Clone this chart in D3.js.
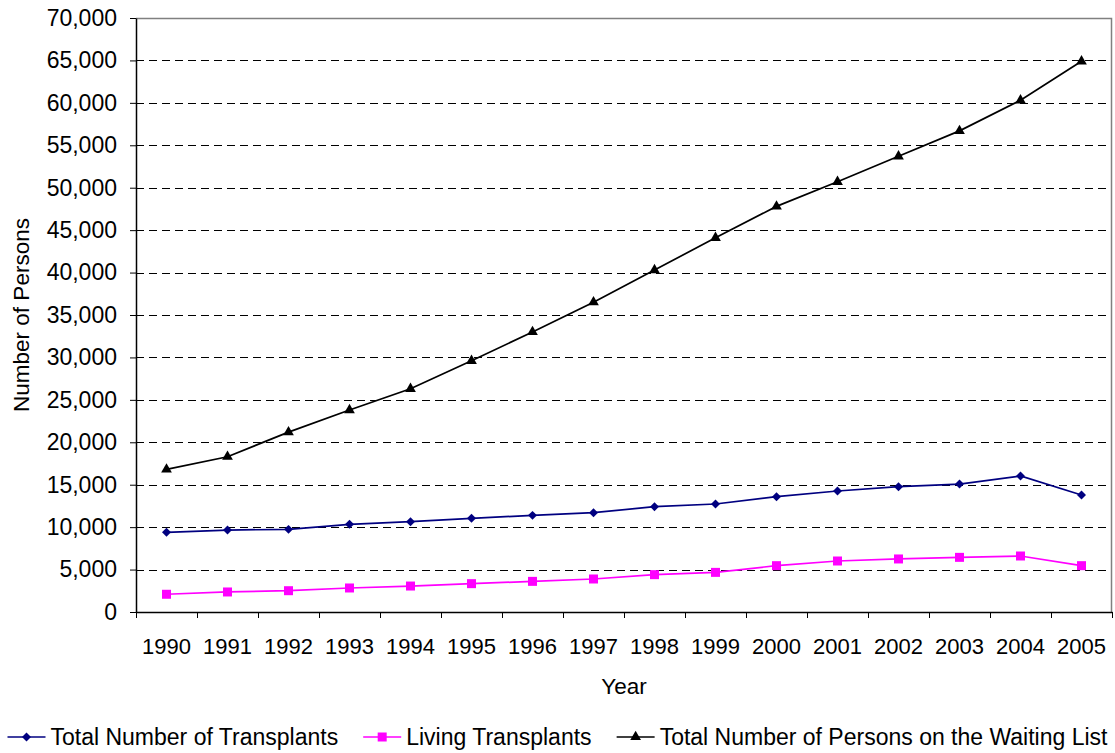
<!DOCTYPE html>
<html>
<head>
<meta charset="utf-8">
<script src="https://cdn.jsdelivr.net/npm/d3@7"></script>
<style>
  html, body { margin: 0; padding: 0; background: #fff; overflow: hidden; }
  svg { display: block; }
  svg text { font-family: "Liberation Sans", Arial, sans-serif; fill: #000; }
</style>
</head>
<body>
<svg id="chart" width="1115" height="753"></svg>
<script>
// values
const years = ["1990","1991","1992","1993","1994","1995","1996","1997",
               "1998","1999","2000","2001","2002","2003","2004","2005"];
const totalTransplants = [9390, 9660, 9740, 10330, 10640, 11040, 11390, 11700,
                          12410, 12730, 13590, 14260, 14770, 15080, 16030, 13790];
const livingTransplants = [2090, 2360, 2510, 2830, 3060, 3340, 3610, 3890,
                           4400, 4670, 5460, 6010, 6250, 6440, 6600, 5460];
const waitingList = [16800, 18300, 21200, 23800, 26300, 29600, 33000, 36500,
                     40300, 44100, 47800, 50700, 53700, 56700, 60300, 64900];
const yTicks = [0, 5000, 10000, 15000, 20000, 25000, 30000, 35000,
                40000, 45000, 50000, 55000, 60000, 65000, 70000];

const series = [
  { name: "Total Number of Transplants", values: totalTransplants, color: "#000080", shape: "diamond" },
  { name: "Living Transplants", values: livingTransplants, color: "#FF00FF", shape: "square" },
  { name: "Total Number of Persons on the Waiting List", values: waitingList, color: "#000000", shape: "triangle" }
];

const width = 1115, height = 753;
const margin = { top: 18, right: 3, bottom: 141, left: 136 };
const innerWidth  = width  - margin.left - margin.right;
const innerHeight = height - margin.top  - margin.bottom;
const fontFamily = '"Liberation Sans", Arial, sans-serif';

const x = d3.scaleBand().domain(years).range([0, innerWidth]);
const xEdge = d3.scaleLinear().domain([0, years.length]).range([0, innerWidth]);
const y = d3.scaleLinear().domain([0, 70000]).range([innerHeight, 0]);

const svg = d3.select("#chart")
  .attr("font-family", fontFamily)
  .attr("font-size", 22.5);
const inner = svg.append("g")
  .attr("transform", `translate(${margin.left}, ${margin.top})`);

// dashed gridlines
inner.append("g")
  .selectAll("line")
  .data(yTicks.filter(d => d > 0 && d < 70000))
  .join("line")
  .attr("x1", 0).attr("x2", innerWidth)
  .attr("y1", d => Math.round(y(d)) + 0.5).attr("y2", d => Math.round(y(d)) + 0.5)
  .attr("stroke", "#000").attr("stroke-width", 1)
  .attr("stroke-dasharray", "8,5");

// top and right frame in gray
inner.append("path")
  .attr("d", `M0,0.5H${innerWidth - 0.5}V${innerHeight}`)
  .attr("fill", "none").attr("stroke", "#808080").attr("stroke-width", 1.5);

// y axis
const yAxis = inner.append("g")
  .call(d3.axisLeft(y).tickValues(yTicks).tickFormat(d3.format(","))
    .tickSize(6).tickSizeOuter(0).tickPadding(13))
  .attr("font-family", fontFamily)
  .attr("font-size", 23);
yAxis.select(".domain").attr("stroke", "#000").attr("stroke-width", 1.5);
yAxis.selectAll("line").attr("stroke", "#000");

// x axis: tick marks on category edges
const xTickAxis = inner.append("g")
  .attr("transform", `translate(0, ${innerHeight})`)
  .call(d3.axisBottom(xEdge).tickValues(d3.range(0, years.length + 1))
    .tickFormat("").tickSize(6).tickSizeOuter(0));
xTickAxis.select(".domain").attr("stroke", "#000").attr("stroke-width", 1.5);
xTickAxis.selectAll("line").attr("stroke", "#000");

// x axis: year labels centred in the categories
const xLabelAxis = inner.append("g")
  .attr("transform", `translate(0, ${innerHeight})`)
  .call(d3.axisBottom(x).tickSize(0).tickPadding(26))
  .attr("font-family", fontFamily)
  .attr("font-size", 22);
xLabelAxis.select(".domain").remove();

// axis titles
svg.append("text")
  .attr("transform", `translate(29, ${margin.top + innerHeight / 2}) rotate(-90)`)
  .attr("text-anchor", "middle")
  .text("Number of Persons");

svg.append("text")
  .attr("x", margin.left + innerWidth / 2)
  .attr("y", 694)
  .attr("text-anchor", "middle")
  .text("Year");

// marker shapes
const symbolFor = {
  diamond:  { type: d3.symbolSquare, size: 40, rotate: 45 },
  square:   { type: d3.symbolSquare, size: 81, rotate: 0 },
  triangle: { type: d3.symbolTriangle, size: 50, rotate: 0 }
};

const line = d3.line()
  .x((d, i) => x(years[i]) + x.bandwidth() / 2)
  .y(d => y(d));

series.forEach(s => {
  const g = inner.append("g");
  g.append("path")
    .datum(s.values)
    .attr("d", line)
    .attr("fill", "none")
    .attr("stroke", s.color)
    .attr("stroke-width", 1.7);

  const sym = symbolFor[s.shape];
  g.selectAll("path.marker")
    .data(s.values)
    .join("path")
    .attr("class", "marker")
    .attr("d", d3.symbol().type(sym.type).size(sym.size)())
    .attr("fill", s.color)
    .attr("transform", (d, i) =>
      `translate(${x(years[i]) + x.bandwidth() / 2}, ${y(d)}) rotate(${sym.rotate})`);
});

// legend along the bottom, spread from x=5 to x=1105 like the original
const legend = svg.append("g").attr("font-size", 23);
const sampleW = 38, textGap = 5;
const items = series.map(s => {
  const item = legend.append("g");
  item.append("line")
    .attr("x1", 0).attr("x2", sampleW)
    .attr("y1", 0).attr("y2", 0)
    .attr("stroke", s.color).attr("stroke-width", 1.7);
  const sym = symbolFor[s.shape];
  item.append("path")
    .attr("d", d3.symbol().type(sym.type).size(sym.size)())
    .attr("fill", s.color)
    .attr("transform", `translate(${sampleW / 2}, 0) rotate(${sym.rotate})`);
  const t = item.append("text")
    .attr("x", sampleW + textGap)
    .attr("y", 8)
    .text(s.name);
  return { item, w: sampleW + textGap + t.node().getComputedTextLength() };
});
const legendLeft = 5, legendRight = 1105;
const used = d3.sum(items, d => d.w);
const itemGap = Math.max(10, (legendRight - legendLeft - used) / (items.length - 1));
let cursor = 0;
items.forEach(d => {
  d.item.attr("transform", `translate(${cursor}, 0)`);
  cursor += d.w + itemGap;
});
const legendW = cursor - itemGap;
legend.attr("transform", `translate(${(width - legendW) / 2}, 737)`);
</script>
</body>
</html>
